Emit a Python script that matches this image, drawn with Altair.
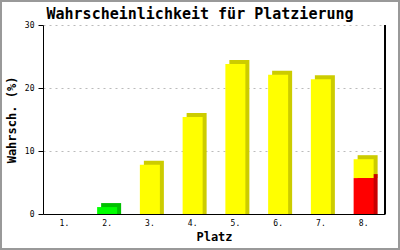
import altair as alt
import pandas as pd

platz = ["1.", "2.", "3.", "4.", "5.", "6.", "7.", "8."]
wahrsch = [0.0, 1.1, 7.8, 15.4, 23.8, 22.1, 21.4, 8.7]
anteil_rot = [0.0, 0.0, 0.0, 0.0, 0.0, 0.0, 0.0, 5.7]
ist_gruen = [False, True, False, False, False, False, False, False]
titel = "Wahrscheinlichkeit für Platzierung"

FRONT = {"gelb": "#FFFF00", "gruen": "#00FF00", "rot": "#FF0000"}
SIDE = {"gelb": "#CCCC00", "gruen": "#00C000", "rot": "#C80000"}

rows = []
for p, v, r, g in zip(platz, wahrsch, anteil_rot, ist_gruen):
    if v <= 0:
        continue
    if g:
        rows.append(dict(platz=p, start=0.0, ende=v, typ="gruen"))
        continue
    rows.append(dict(platz=p, start=r, ende=v, typ="gelb"))
    if r > 0:
        rows.append(dict(platz=p, start=0.0, ende=r, typ="rot"))
df = pd.DataFrame(rows)
df["front"] = df["typ"].map(FRONT)
df["side"] = df["typ"].map(SIDE)

W, H = 342, 189
FONT = "DejaVu Sans Mono"

x = alt.X("platz:N", sort=platz, title="Platz",
          scale=alt.Scale(domain=platz, paddingInner=0, paddingOuter=0),
          axis=alt.Axis(labelAngle=0, ticks=False, domainColor="black",
                        labelPadding=5, titlePadding=4))
y = alt.Y("ende:Q", title="Wahrsch. (%)",
          scale=alt.Scale(domain=[0, 30], nice=False),
          axis=alt.Axis(values=[0, 10, 20, 30], grid=True, gridColor="#bbbbbb",
                        gridDash=[2, 4], domainColor="black", tickColor="black",
                        tickSize=5, labelPadding=4, titlePadding=6))

base = alt.Chart(df)
shadow = base.mark_bar(width=20, xOffset=4, yOffset=-4, y2Offset=0).encode(
    x=x, y=y, y2="start:Q", color=alt.Color("side:N", scale=None))
front = base.mark_bar(width=20).encode(
    x=x, y=y, y2="start:Q", color=alt.Color("front:N", scale=None))
right_line = alt.Chart(df).mark_rule(color="black", strokeWidth=1).encode(
    x=alt.value(W), y=alt.value(0), y2=alt.value(H))
border = alt.Chart(df).mark_rect(fill=None, stroke="#999999", strokeWidth=2).encode(
    x=alt.value(-42), x2=alt.value(356), y=alt.value(-24), y2=alt.value(224))
title_mark = alt.Chart(pd.DataFrame({"t": [titel]})).mark_text(
    font=FONT, fontSize=15, fontWeight="bold", color="black",
    align="center", baseline="alphabetic").encode(
    text="t:N", x=alt.value(157), y=alt.value(-6))

chart = alt.layer(shadow, front, right_line, border, title_mark).properties(
    width=W, height=H,
    autosize=alt.AutoSizeParams(type="none"),
    padding={"left": 43, "top": 25, "right": 15, "bottom": 36},
    background="white",
).configure_view(stroke=None).configure_axis(
    labelFont=FONT, labelFontSize=8, labelColor="black",
    titleFont=FONT, titleFontSize=12, titleFontWeight="bold", titleColor="black",
)

chart.save("out.html", embed_options={"renderer": "svg", "actions": False})
